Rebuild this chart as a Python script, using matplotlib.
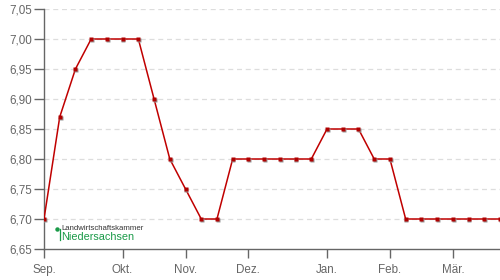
import matplotlib
matplotlib.use("Agg")
import matplotlib.pyplot as plt
import matplotlib.transforms as mtransforms
import pandas as pd
import numpy as np

start_date = "2021-09-01"
values = [6.70, 6.87, 6.95, 7.00, 7.00, 7.00, 7.00, 6.90, 6.80, 6.75,
          6.70, 6.70, 6.80, 6.80, 6.80, 6.80, 6.80, 6.80, 6.85, 6.85,
          6.85, 6.80, 6.80, 6.70, 6.70, 6.70, 6.70, 6.70, 6.70, 6.70]
month_labels = ["Sep.", "Okt.", "Nov.", "Dez.", "Jan.", "Feb.", "Mär."]
y_ticks = [6.65, 6.70, 6.75, 6.80, 6.85, 6.90, 6.95, 7.00, 7.05]

dates = pd.date_range(start_date, periods=len(values), freq="7D")
x = np.arange(len(values))

plt.rcParams['font.family'] = ['Liberation Sans', 'DejaVu Sans']
fig = plt.figure(figsize=(5, 2.8), dpi=100)
ax = fig.add_axes([44/500, 1-249/280, 1-44/500, 240/280])

# first data point of each month -> tick
months = pd.Series(dates).dt.to_period("M")
first_idx = [i for i in range(len(dates)) if i == 0 or months[i] != months[i-1]]

ax.plot(x, values, color="#c00000", lw=1.1, zorder=3)
shadow = mtransforms.offset_copy(ax.transData, fig=fig, x=0.8, y=-0.8, units="dots")
ax.plot(x, values, ls="none", marker="s", ms=3, color="#999999", mec="none",
        transform=shadow, zorder=3)
ax.plot(x, values, ls="none", marker="s", ms=3, color="#b00000", mec="none", zorder=4)

ax.set_xlim(0, len(values) - 1)
ax.set_ylim(6.65, 7.05)
ax.set_yticks(y_ticks)
ax.set_yticklabels([f"{v:.2f}".replace(".", ",") for v in y_ticks])
ax.set_xticks([x[i] for i in first_idx])
ax.set_xticklabels(month_labels[:len(first_idx)])

for v in y_ticks[1:]:
    ax.axhline(v, color="#dddddd", lw=0.9, ls=(0, (4, 3)), zorder=1)

for s in ["top", "right"]:
    ax.spines[s].set_visible(False)
for s in ["left", "bottom"]:
    ax.spines[s].set_color("#666666")
    ax.spines[s].set_linewidth(1.0)
ax.tick_params(axis="y", length=7.5, width=1, color="#666666", pad=1,
               labelsize=8.4, labelcolor="#666666")
ax.tick_params(axis="x", length=6.5, width=1, color="#666666", pad=4,
               labelsize=8.4, labelcolor="#666666")

# logo
fig.add_artist(plt.Line2D([57/500], [1-229/280], transform=fig.transFigure,
                          marker="o", ms=3.2, color="#1a9a48", mec="none", ls="none"))
fig.add_artist(plt.Line2D([59.5/500, 59.5/500], [1-229/280, 1-240/280],
                          transform=fig.transFigure, color="#1a9a48", lw=0.9))
fig.text(61/500, 1-228/280, "Landwirtschaftskammer", fontsize=5.6, color="#333333",
         va="center", ha="left")
fig.text(61/500, 1-236.5/280, "Niedersachsen", fontsize=7.8, color="#1a9a48",
         va="center", ha="left")

fig.savefig("out.png", dpi=100)
